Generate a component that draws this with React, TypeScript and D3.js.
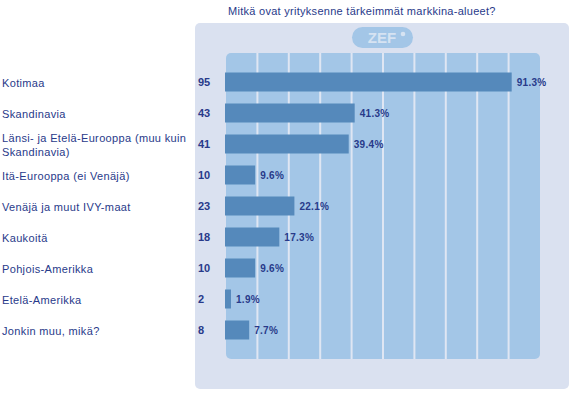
import React from 'react';
import { scaleLinear, scaleBand, range } from 'd3';

const WIDTH = 570;
const HEIGHT = 396;

const title = 'Mitkä ovat yrityksenne tärkeimmät markkina-alueet?';
const categories = [
  ['Kotimaa'],
  ['Skandinavia'],
  ['Länsi- ja Etelä-Eurooppa (muu kuin', 'Skandinavia)'],
  ['Itä-Eurooppa (ei Venäjä)'],
  ['Venäjä ja muut IVY-maat'],
  ['Kaukoitä'],
  ['Pohjois-Amerikka'],
  ['Etelä-Amerikka'],
  ['Jonkin muu, mikä?']
];
const counts = [95, 43, 41, 10, 23, 18, 10, 2, 8];
const percents = [91.3, 41.3, 39.4, 9.6, 22.1, 17.3, 9.6, 1.9, 7.7];
const gridTicks = range(0, 101, 10);

const TEXT = '#283a8a';
const BAR = '#5589bb';
const INNER = '#a3c6e7';
const OUTER = '#dae1f0';

const App = () => {
  const x = scaleLinear().domain([0, 100]).range([225, 539]);
  const y = scaleBand<number>()
    .domain(categories.map((_, i) => i))
    .range([66.5, 66.5 + 31 * categories.length]);
  const barH = 19;
  const font = 'Arial, "Liberation Sans", sans-serif';

  return (
    <svg
      width={WIDTH}
      height={HEIGHT}
      style={{ position: 'absolute', left: 0, top: 0 }}
      fontFamily={font}
    >
      <rect width={WIDTH} height={HEIGHT} fill="#fff" />
      <text x={228} y={15} fontSize={11} letterSpacing={0.28} fill={TEXT}>{title}</text>

      {/* panels */}
      <rect x={195} y={23} width={374} height={366} rx={5} fill={OUTER} />
      <rect x={x(0) + 1} y={53} width={x(100) - x(0)} height={306} rx={5} fill={INNER} />
      {gridTicks.slice(1, -1).map(t => (
        <line key={t} x1={x(t) + 1} x2={x(t) + 1} y1={53} y2={359}
          stroke="#dfe6f3" strokeWidth={2} />
      ))}

      {/* logo */}
      <rect x={352} y={27} width={61} height={21} rx={10.5} fill={INNER} />
      <text x={382} y={43} textAnchor="middle" fontSize={15} fontWeight="bold" fill="#d6e3f2">ZEF</text>
      <circle cx={403} cy={34} r={2.3} fill="#d6e3f2" />

      {/* rows */}
      {categories.map((lines, i) => {
        const cy = (y(i) as number) + y.bandwidth() / 2;
        return (
          <g key={i}>
            <text x={2} y={lines.length > 1 ? cy - 2.5 : cy + 4.5} fontSize={11}
              letterSpacing={0.35} fill={TEXT}>
              {lines.map((l, j) => (
                <tspan key={j} x={2} dy={j === 0 ? 0 : 14}>{l}</tspan>
              ))}
            </text>
            <text x={198} y={cy + 4} fontSize={11} fontWeight="bold" fill={TEXT}>{counts[i]}</text>
            <rect x={x(0)} y={cy - barH / 2} width={x(percents[i]) - x(0)} height={barH} fill={BAR} />
            <text x={x(percents[i]) + 5} y={cy + 4} fontSize={10} fontWeight="bold"
              letterSpacing={0.3} fill={TEXT}>
              {percents[i].toFixed(1)}%
            </text>
          </g>
        );
      })}
    </svg>
  );
};

export default App;
